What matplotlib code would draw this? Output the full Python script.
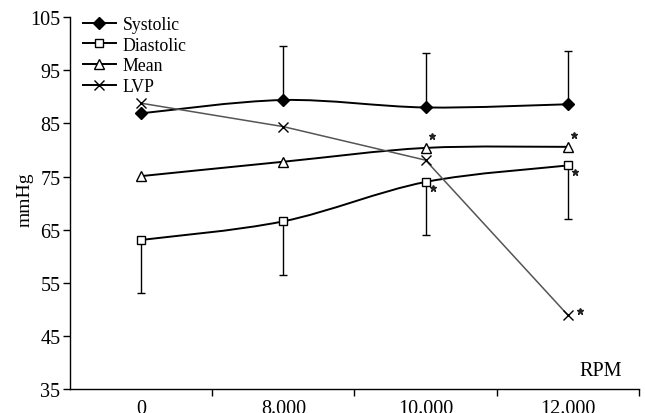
import matplotlib
matplotlib.use("Agg")
import matplotlib.pyplot as plt
from matplotlib.path import Path
from matplotlib.patches import PathPatch
from matplotlib.lines import Line2D
from matplotlib.transforms import offset_copy
import numpy as np

plt.rcParams['font.family'] = ['Liberation Serif', 'DejaVu Serif']

categories = ["0", "8.000", "10.000", "12.000"]
systolic = [86.9, 89.4, 88.0, 88.6]
systolic_err = [0, 10.2, 10.2, 10.0]
diastolic = [63.1, 66.6, 74.0, 77.1]
diastolic_err = [10, 10, 10, 10]
mean = [75.1, 77.8, 80.4, 80.6]
lvp = [88.8, 84.4, 78.1, 49.0]
mean_sig = [False, False, True, True]
diastolic_sig = [False, False, True, True]
lvp_sig = [False, False, False, True]

fig = plt.figure(figsize=(6.45, 4.14), dpi=100)
ax = fig.add_axes([0.1085, 0.0568, 0.882, 0.8997])
x = np.arange(len(categories))
TFS = 14.5
LFS = 12.8


def smooth_path(xs, ys):
    pts = np.column_stack([xs, ys]).astype(float)
    n = len(pts)
    verts = [pts[0]]
    codes = [Path.MOVETO]
    for i in range(n - 1):
        p0 = pts[i - 1] if i > 0 else pts[i]
        p1 = pts[i]
        p2 = pts[i + 1]
        p3 = pts[i + 2] if i + 2 < n else pts[i + 1]
        c1 = p1 + (p2 - p0) / 6.0
        c2 = p2 - (p3 - p1) / 6.0
        verts += [c1, c2, p2]
        codes += [Path.CURVE4] * 3
    return Path(verts, codes)


lw = 1.4
ax.errorbar(x, systolic, yerr=[np.zeros(4), systolic_err], fmt='none', ecolor='black',
            elinewidth=1.0, capsize=2.6, capthick=1.0, zorder=2)
ax.errorbar(x, diastolic, yerr=[diastolic_err, np.zeros(4)], fmt='none', ecolor='black',
            elinewidth=1.0, capsize=2.6, capthick=1.0, zorder=2)

for ys in (systolic, diastolic, mean):
    ax.add_patch(PathPatch(smooth_path(x, ys), facecolor='none', edgecolor='black', lw=lw, zorder=3))
ax.plot(x, lvp, color='#555555', lw=1.1, zorder=3)

ax.plot(x, systolic, linestyle='none', marker='D', ms=6.3, mfc='black', mec='black', zorder=5)
ax.plot(x, diastolic, linestyle='none', marker='s', ms=5.8, mfc='white', mec='black', mew=1.0, zorder=5)
ax.plot(x, mean, linestyle='none', marker='^', ms=6.8, mfc='white', mec='black', mew=1.0, zorder=5)
ax.plot(x, lvp, linestyle='none', marker='x', ms=7, mec='black', mew=1.0, zorder=5)


def stars(ys, flags, dx, dy):
    tr = offset_copy(ax.transData, fig=fig, x=dx, y=dy, units='points')
    xs = [x[i] for i in range(4) if flags[i]]
    vs = [ys[i] for i in range(4) if flags[i]]
    ax.plot(xs, vs, linestyle='none', marker='*', ms=4.6, color='#222222', transform=tr, zorder=6)


stars(mean, mean_sig, 4.5, 8.8)
stars(diastolic, diastolic_sig, 5.5, -4.5)
stars(lvp, lvp_sig, 8.6, 3.1)

ax.set_xlim(-0.5, 3.5)
ax.set_ylim(35, 105)
ax.set_yticks(np.arange(35, 106, 10))
ax.set_xticks(x)
ax.set_xticklabels(categories)
ax.set_xticks([0.5, 1.5, 2.5, 3.5], minor=True)
ax.tick_params(axis='x', which='major', length=0, pad=6.5, labelsize=TFS)
ax.tick_params(axis='x', which='minor', length=5, width=1.0, direction='out')
ax.tick_params(axis='y', length=5, width=1.0, direction='out', labelsize=TFS, pad=2)
for s in ('top', 'right'):
    ax.spines[s].set_visible(False)
for s in ('left', 'bottom'):
    ax.spines[s].set_linewidth(1.0)

fig.text(25 / 645, 1 - 200 / 414, 'mmHg', rotation=90, fontsize=14, ha='center', va='center')
fig.text(601 / 645, 1 - 372 / 414, 'RPM', fontsize=TFS, ha='center', va='center')

handles = [
    Line2D([], [], color='black', lw=lw, marker='D', ms=6.3, mfc='black'),
    Line2D([], [], color='black', lw=lw, marker='s', ms=5.8, mfc='white', mew=1.0),
    Line2D([], [], color='black', lw=lw, marker='^', ms=6.8, mfc='white', mew=1.0),
    Line2D([], [], color='black', lw=lw, marker='x', ms=7, mew=1.0),
]
ax.legend(handles, ['Systolic', 'Diastolic', 'Mean', 'LVP'], loc='upper left',
          bbox_to_anchor=(0.01, 1.0215), frameon=False, fontsize=LFS, handlelength=1.85,
          handletextpad=0.4, labelspacing=0.2, borderaxespad=0)

fig.savefig('out.png', dpi=100)
